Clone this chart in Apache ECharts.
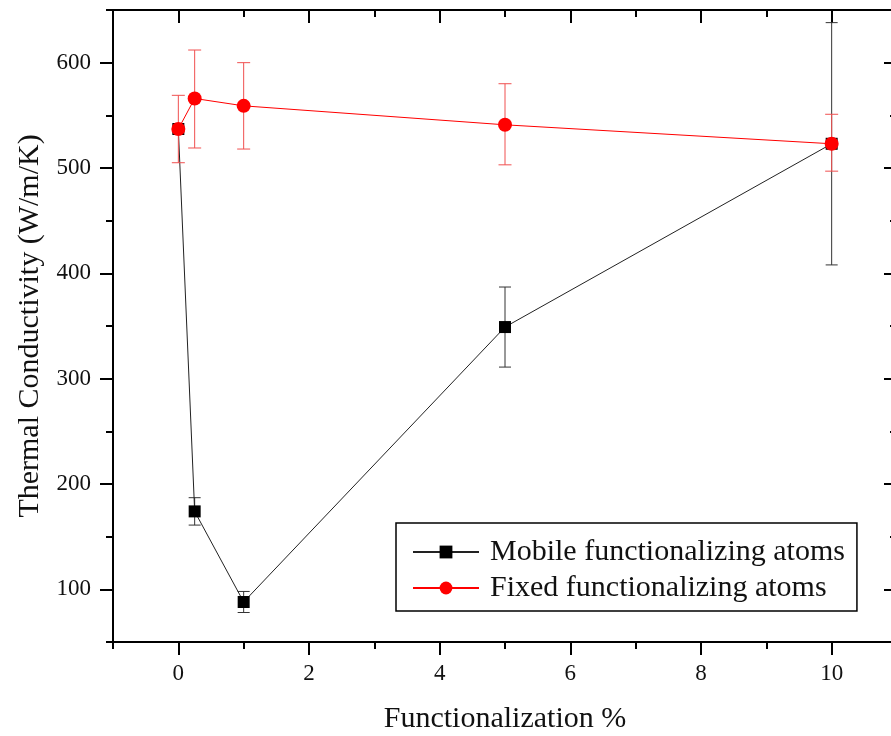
<!DOCTYPE html>
<html>
<head>
<meta charset="utf-8">
<script src="https://cdn.jsdelivr.net/npm/echarts@6/dist/echarts.min.js"></script>
<style>
  html, body { margin: 0; padding: 0; background: #fff; }
  #chart { width: 891px; height: 736px; }
</style>
</head>
<body>
<div id="chart"></div>
<script>
// data
const functionalization = [0, 0.25, 1, 5, 10];
const mobileK = [537, 174, 88, 349, 523];
const mobileLow = [537, 161, 78, 311, 408];
const mobileHigh = [537, 187, 98, 387, 638];
const fixedK = [537, 566, 559, 541, 523];
const fixedLow = [505, 519, 518, 503, 497];
const fixedHigh = [569, 612, 600, 580, 551];

const xMajorTicks = [0, 2, 4, 6, 8, 10];
const xMinorTicks = [-1, 1, 3, 5, 7, 9, 11];
const yMajorTicks = [100, 200, 300, 400, 500, 600];
const yMinorTicks = [50, 150, 250, 350, 450, 550, 650];

const chart = echarts.init(document.getElementById('chart'));
const serif = "'Liberation Serif', 'Times New Roman', serif";

function pairs(xs, ys) {
    return xs.map(function (x, i) { return [x, ys[i]]; });
}
function bars(xs, lo, hi) {
    return xs.map(function (x, i) { return [x, lo[i], hi[i]]; });
}

function errorBar(color, halfCap) {
    return function (params, api) {
        const x = api.value(0);
        const lo = api.coord([x, api.value(1)]);
        const hi = api.coord([x, api.value(2)]);
        const style = { stroke: color, lineWidth: 1 };
        return {
            type: 'group',
            children: [
                { type: 'line', shape: { x1: lo[0], y1: lo[1], x2: hi[0], y2: hi[1] }, style: style },
                { type: 'line', shape: { x1: hi[0] - halfCap, y1: hi[1], x2: hi[0] + halfCap, y2: hi[1] }, style: style },
                { type: 'line', shape: { x1: lo[0] - halfCap, y1: lo[1], x2: lo[0] + halfCap, y2: lo[1] }, style: style }
            ]
        };
    };
}

function xAxisDef(pos, ticks, len, inside, showLabel) {
    return {
        type: 'value', position: pos, min: -1, max: 11,
        axisLine: { show: true, onZero: false, lineStyle: { color: '#000', width: 2 } },
        axisTick: { show: true, inside: inside, length: len, customValues: ticks, lineStyle: { color: '#000', width: 2 } },
        axisLabel: showLabel ? { show: true, customValues: ticks, margin: 20, color: '#111', fontFamily: serif, fontSize: 23 } : { show: false },
        splitLine: { show: false }
    };
}
function yAxisDef(pos, ticks, len, inside, showLabel) {
    return {
        type: 'value', position: pos, min: 50, max: 650,
        axisLine: { show: true, onZero: false, lineStyle: { color: '#000', width: 2 } },
        axisTick: { show: true, inside: inside, length: len, customValues: ticks, lineStyle: { color: '#000', width: 2 } },
        axisLabel: showLabel ? { show: true, customValues: ticks, margin: 22, color: '#111', fontFamily: serif, fontSize: 23 } : { show: false },
        splitLine: { show: false }
    };
}

const xMain = xAxisDef('bottom', xMajorTicks, 13, false, true);
xMain.name = 'Functionalization %';
xMain.nameLocation = 'middle';
xMain.nameGap = 62;
xMain.nameTextStyle = { fontFamily: serif, fontSize: 30, color: '#111' };

const yMain = yAxisDef('left', yMajorTicks, 13, false, true);
yMain.name = 'Thermal Conductivity (W/m/K)';
yMain.nameLocation = 'middle';
yMain.nameGap = 66;
yMain.nameTextStyle = { fontFamily: serif, fontSize: 30, color: '#111' };

const option = {
    backgroundColor: '#fff',
    animation: false,
    grid: { left: 113, top: 10, width: 784, height: 632, outerBoundsMode: 'none' },
    xAxis: [
        xMain,
        xAxisDef('bottom', xMinorTicks, 7, false, false),
        xAxisDef('top', xMajorTicks, 13, true, false),
        xAxisDef('top', xMinorTicks, 7, true, false)
    ],
    yAxis: [
        yMain,
        yAxisDef('left', yMinorTicks, 7, false, false),
        yAxisDef('right', yMajorTicks, 13, true, false),
        yAxisDef('right', yMinorTicks, 7, true, false)
    ],
    legend: {
        data: ['Mobile functionalizing atoms', 'Fixed functionalizing atoms'],
        orient: 'vertical',
        left: 396,
        top: 523,
        padding: [14, 12, 8, 16],
        itemGap: 6,
        itemWidth: 66,
        itemHeight: 16,
        borderColor: '#000',
        borderWidth: 1.5,
        textStyle: { fontFamily: serif, fontSize: 30, color: '#111', padding: [0, 0, 0, 6] }
    },
    series: [
        {
            type: 'custom',
            name: 'mobileErr',
            renderItem: errorBar('#333', 6),
            data: bars(functionalization, mobileLow, mobileHigh),
            encode: { x: 0, y: [1, 2] },
            z: 1
        },
        {
            type: 'line',
            name: 'Mobile functionalizing atoms',
            data: pairs(functionalization, mobileK),
            symbol: 'rect',
            symbolSize: 12,
            itemStyle: { color: '#000' },
            lineStyle: { color: '#222', width: 1 },
            z: 2
        },
        {
            type: 'custom',
            name: 'fixedErr',
            renderItem: errorBar('#f05050', 6.5),
            data: bars(functionalization, fixedLow, fixedHigh),
            encode: { x: 0, y: [1, 2] },
            z: 3
        },
        {
            type: 'line',
            name: 'Fixed functionalizing atoms',
            data: pairs(functionalization, fixedK),
            symbol: 'circle',
            symbolSize: 14,
            itemStyle: { color: '#ff0000' },
            lineStyle: { color: '#ff0000', width: 1 },
            z: 4
        }
    ]
};

chart.setOption(option);
</script>
</body>
</html>
